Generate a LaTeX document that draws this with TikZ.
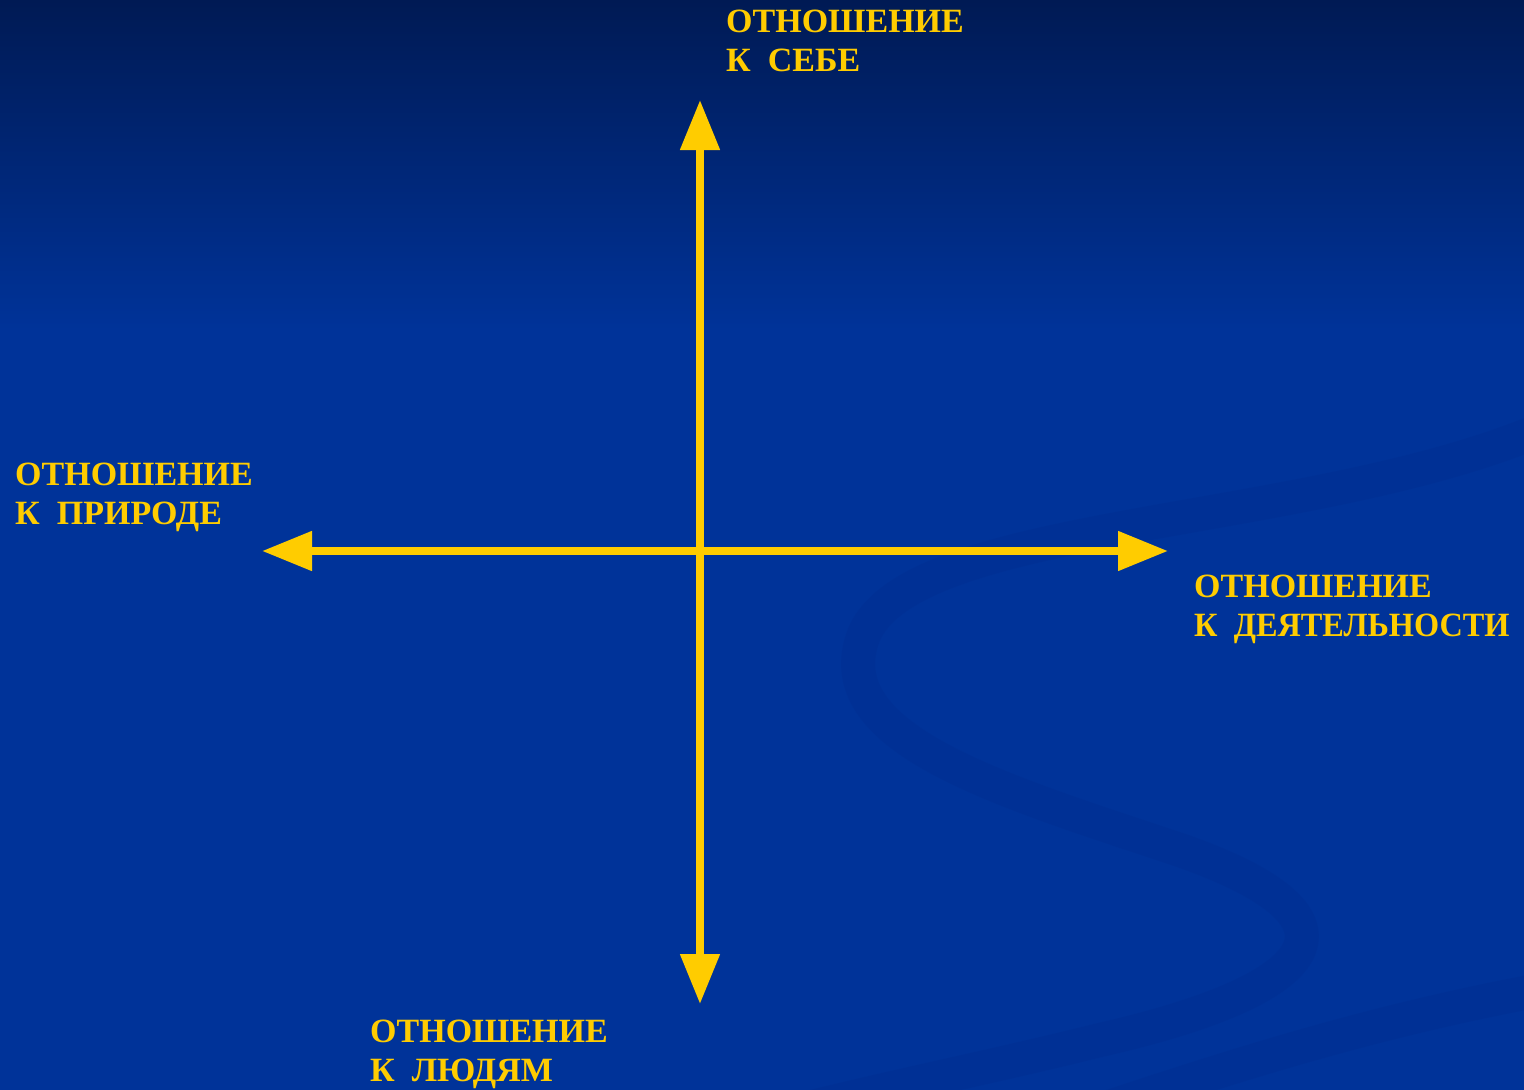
\documentclass[tikz,border=0pt]{standalone}
\usepackage{fontspec}
\setmainfont{Liberation Serif}
\newfontfamily\narrowserif[FakeStretch=0.95]{Liberation Serif}
\usetikzlibrary{arrows.meta}
\definecolor{bgtop}{RGB}{0,26,84}
\definecolor{bgmid}{RGB}{0,51,153}
\definecolor{swirl}{RGB}{0,44,140}
\definecolor{gold}{RGB}{255,204,0}
\tikzset{
  lbl/.style={text=gold, font=\bfseries\fontsize{34}{39}\selectfont, align=left, anchor=north west, inner sep=0pt},
  axis/.style={draw=gold, line width=8pt, {Triangle[length=50pt,width=38pt]}-{Triangle[length=50pt,width=38pt]}}
}
\begin{document}
\begin{tikzpicture}[x=1pt,y=-1pt]
\useasboundingbox (0,0) rectangle (1524,1090);
\fill[bgmid] (0,0) rectangle (1524,1090);
\shade[top color=bgtop, bottom color=bgmid] (0,0) rectangle (1524,330);
% faint background swirl
\draw[swirl, line width=34pt, opacity=0.3, line cap=round]
  (1540,430) .. controls (1300,530) and (900,520) .. (862,640)
  .. controls (830,740) and (1000,790) .. (1180,850)
  .. controls (1380,920) and (1320,990) .. (1100,1040)
  .. controls (1000,1065) and (900,1085) .. (800,1110);
\draw[swirl, line width=34pt, opacity=0.3]
  (1540,990) .. controls (1380,1020) and (1250,1060) .. (1100,1110);
% axes
\coordinate (c) at (700,551);
\coordinate (up) at (700,100);
\coordinate (down) at (700,1004);
\coordinate (lft) at (262,551);
\coordinate (rgt) at (1168,551);
\draw[axis] (lft) -- (rgt);
\draw[axis] (up) -- (down);
% labels
\node[lbl] (self) at (726,10) {ОТНОШЕНИЕ\\К\ \ СЕБЕ};
\node[lbl] (nature) at (15,463) {ОТНОШЕНИЕ\\К\ \ ПРИРОДЕ};
\node[lbl] (work) at (1194,575) {ОТНОШЕНИЕ\\{\narrowserif\bfseries К\ \ ДЕЯТЕЛЬНОСТИ}};
\node[lbl] (people) at (370,1020) {ОТНОШЕНИЕ\\К\ \ ЛЮДЯМ};
\end{tikzpicture}
\end{document}
